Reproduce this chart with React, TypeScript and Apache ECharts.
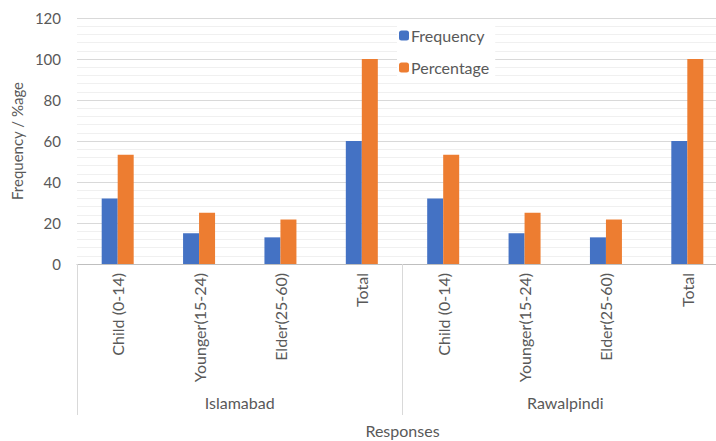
import React, { useEffect, useRef } from "react";
import * as echarts from "echarts";

const groups = ["Islamabad", "Rawalpindi"];
const subCategories = ["Child (0-14)", "Younger(15-24)", "Elder(25-60)", "Total"];
const categories = [...subCategories, ...subCategories];
const frequency = [32, 15, 13, 60, 32, 15, 13, 60];
const percentage = [53.3, 25, 21.7, 100, 53.3, 25, 21.7, 100];
const yTicks = { min: 0, max: 120, interval: 20 };

const FONT = "Lato";
const TEXT = "#595959";

export default function App() {
  const ref = useRef<HTMLDivElement>(null);
  useEffect(() => {
    if (!ref.current) return;
    const chart = echarts.init(ref.current, undefined, { renderer: "svg" });
    chart.setOption({
      animation: false,
      backgroundColor: "#ffffff",
      textStyle: { fontFamily: FONT, color: TEXT },
      grid: { left: 77, width: 651, top: 18, height: 246, outerBoundsMode: "none", containLabel: false },
      legend: {
        data: ["Frequency", "Percentage"],
        orient: "vertical",
        left: 397,
        top: 24,
        itemWidth: 10,
        itemHeight: 10,
        itemGap: 13,
        backgroundColor: "#ffffff",
        padding: [2, 6, 2, 2],
        textStyle: { fontFamily: FONT, fontSize: 16, color: TEXT, padding: [0, 0, 0, -3], lineHeight: 19 },
      },
      xAxis: [
        {
          type: "category",
          data: categories,
          gridIndex: 0,
          axisLine: { show: true, lineStyle: { color: "#bfbfbf", width: 1 } },
          axisTick: { show: false },
          axisLabel: {
            rotate: 90,
            interval: 0,
            margin: 9,
            fontFamily: FONT,
            fontSize: 16,
            color: TEXT,
          },
        },
        {
          type: "category",
          data: groups,
          gridIndex: 0,
          position: "bottom",
          offset: 151,
          axisLine: { show: false },
          axisTick: { show: true, inside: true, length: 151, lineStyle: { color: "#d9d9d9" } },
          axisLabel: { inside: true, margin: 5, fontFamily: FONT, fontSize: 16, color: TEXT },
          name: "Responses",
          nameLocation: "middle",
          nameGap: 7,
          nameTextStyle: { fontFamily: FONT, fontSize: 16, color: TEXT, verticalAlign: "top" },
        },
      ],
      yAxis: {
        type: "value",
        min: yTicks.min,
        max: yTicks.max,
        interval: yTicks.interval,
        axisLine: { show: false },
        axisTick: { show: false },
        axisLabel: { fontFamily: FONT, fontSize: 15, color: TEXT, margin: 16 },
        splitLine: { show: true, lineStyle: { color: "#d9d9d9", width: 1 } },
        minorTick: { show: false, splitNumber: 5 },
        minorSplitLine: { show: true, lineStyle: { color: "#f0f0f0", width: 1 } },
        name: "Frequency / %age",
        nameLocation: "middle",
        nameGap: 48,
        nameTextStyle: { fontFamily: FONT, fontSize: 15, color: TEXT },
      },
      series: [
        {
          name: "Frequency",
          type: "bar",
          xAxisIndex: 0,
          data: frequency,
          barWidth: 16,
          barGap: "0%",
          itemStyle: { color: "#4472C4" },
        },
        {
          name: "Percentage",
          type: "bar",
          xAxisIndex: 0,
          data: percentage,
          barWidth: 16,
          barGap: "0%",
          itemStyle: { color: "#ED7D31" },
        },
      ],
    });
    return () => chart.dispose();
  }, []);
  return (
    <div
      ref={ref}
      style={{ position: "fixed", left: 0, top: 0, width: 716, height: 441 }}
    />
  );
}
